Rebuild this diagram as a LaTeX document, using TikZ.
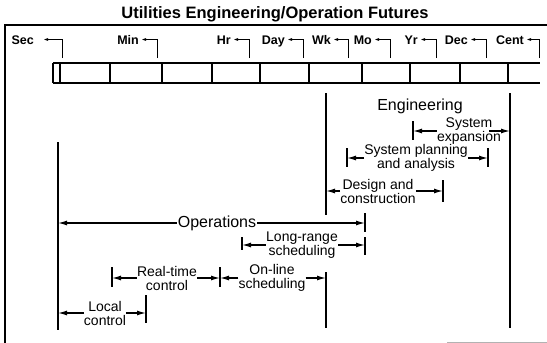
\documentclass[tikz,border=0pt]{standalone}
\usepackage{fontspec}
\setmainfont{Liberation Sans}
\usetikzlibrary{arrows.meta,positioning,calc}
\tikzset{
  title label/.style={
    font=\bfseries\fontsize{16.5}{16.5}\selectfont,
    inner sep=0pt
  },
  scale label/.style={
    font=\bfseries\fontsize{12.5}{12.5}\selectfont,
    inner sep=0pt,
    text height=9pt,
    text depth=0pt,
    anchor=east
  },
  big label/.style={
    font=\fontsize{16}{16}\selectfont,
    inner sep=1pt
  },
  span label/.style={
    align=center,
    font=\fontsize{14}{14}\selectfont,
    inner sep=0pt
  },
  frame line/.style={line width=1.2pt},
  bar line/.style={line width=1.2pt},
  limit line/.style={line width=1.5pt},
  tick arrow/.style={
    -{Latex[length=5pt,width=3pt]},
    line width=1pt
  },
  span arrow/.style={
    -{Latex[length=9pt,width=5pt]},
    line width=1.3pt
  }
}
\begin{document}
\begin{tikzpicture}[x=1pt,y=-1pt]
  \useasboundingbox (0,0) rectangle (547,343);

  % Frame and title
  \draw[frame line] (5,343) -- (5,25) -- (547,25);
  \draw[line width=1pt, gray!60] (447,342) -- (547,342);
  \node[title label] (title) at (275,14) {Utilities Engineering/Operation Futures};

  % Time scale bar
  \draw[bar line] (53,63) -- (540,63) (53,83) -- (540,83);
  \foreach \x in {53,60,110,162,212,260,309,362,410,460,508}
    \draw[bar line] (\x,63) -- (\x,83);
  \foreach \name/\tx/\lx/\g in {Sec/62/34/9, Min/157/139/2, Hr/249/231/2,
      Day/303/285/2, Wk/348/331/2, Mo/390/372/2, Yr/436/418/2,
      Dec/486/468/2, Cent/539/524/2} {
    \node[scale label] (\name) at (\lx,39.5) {\name};
    \draw[tick arrow] (\tx,58) |- ([xshift=\g pt]\name.east);
  }

  % Engineering
  \coordinate (engLTop) at (326,93);
  \coordinate (engLBot) at (326,215);
  \coordinate (engRTop) at (510,93);
  \coordinate (engRBot) at (510,328);
  \draw[limit line] (engLTop) -- (engLBot);
  \draw[limit line] (engRTop) -- (engRBot);
  \node[big label] (eng) at (420,106) {Engineering};

  \node[span label] (sysexp) at (469,131) {System\\expansion};
  \draw[limit line] (413,121) coordinate (sysexpL) -- (413,140);
  \draw[span arrow] (sysexp.west) -- (sysexp.west -| sysexpL);
  \draw[span arrow] ([xshift=-12pt]sysexp.east) -- (sysexp.east -| engRTop);

  \node[span label] (sysplan) at (416,158) {System planning\\and analysis};
  \draw[limit line] (347,148) coordinate (sysplanL) -- (347,167);
  \draw[limit line] (488,148) coordinate (sysplanR) -- (488,167);
  \draw[span arrow] (sysplan.west) -- (sysplan.west -| sysplanL);
  \draw[span arrow] (sysplan.east) -- (sysplan.east -| sysplanR);

  \node[span label] (design) at (378,191) {Design and\\construction};
  \draw[limit line] (443,180) coordinate (designR) -- (443,202);
  \draw[span arrow] (design.west) -- (design.west -| engLTop);
  \draw[span arrow] (design.east) -- (design.east -| designR);

  % Operations
  \coordinate (opsTop) at (58,142);
  \coordinate (opsBot) at (58,330);
  \draw[limit line] (opsTop) -- (opsBot);
  \node[big label] (ops) at (217,223) {Operations};
  \draw[limit line] (365,213) coordinate (opsR) -- (365,232);
  \draw[span arrow] (ops.west) -- (ops.west -| opsTop);
  \draw[span arrow] (ops.east) -- (ops.east -| opsR);

  \node[span label] (longrange) at (302,245) {Long-range\\scheduling};
  \draw[limit line] (242,237) coordinate (longrangeL) -- (242,250);
  \draw[limit line] (365,237) coordinate (longrangeR) -- (365,255);
  \draw[span arrow] (longrange.west) -- (longrange.west -| longrangeL);
  \draw[span arrow] (longrange.east) -- (longrange.east -| longrangeR);

  \node[span label] (realtime) at (167,278) {Real-time\\control};
  \draw[limit line] (112,267) coordinate (realtimeL) -- (112,287);
  \draw[limit line] (220,267) coordinate (realtimeR) -- (220,287);
  \draw[span arrow] (realtime.west) -- (realtime.west -| realtimeL);
  \draw[span arrow] (realtime.east) -- (realtime.east -| realtimeR);

  \node[span label] (online) at (272,278) {On-line\\scheduling};
  \draw[limit line] (326,272) coordinate (onlineR) -- (326,328);
  \draw[span arrow] (online.west) -- (online.west -| realtimeR);
  \draw[span arrow] (online.east) -- (online.east -| onlineR);

  \node[span label] (local) at (105,313) {Local\\control};
  \draw[limit line] (146,295) coordinate (localR) -- (146,323);
  \draw[span arrow] (local.west) -- (local.west -| opsTop);
  \draw[span arrow] (local.east) -- (local.east -| localR);
\end{tikzpicture}
\end{document}
